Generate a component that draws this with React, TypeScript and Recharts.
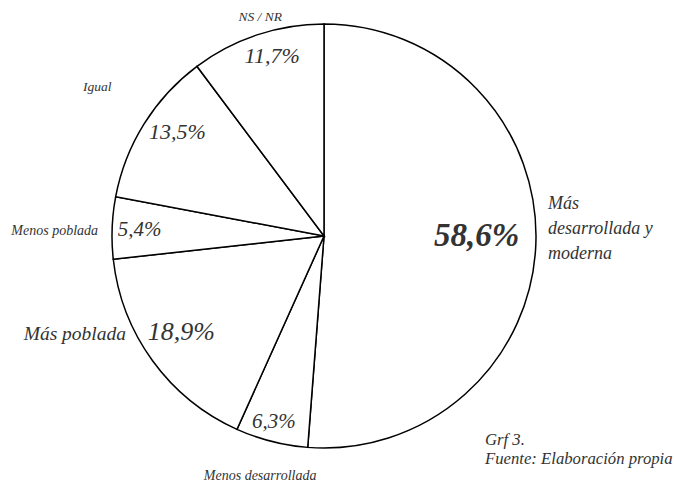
import { PieChart, Pie, Cell } from "recharts";

// Respuestas (los valores no suman 100; la tarta los normaliza)
const categories = [
  "Más desarrollada y moderna",
  "Menos desarrollada",
  "Más poblada",
  "Menos poblada",
  "Igual",
  "NS / NR",
];
const values = [58.6, 6.3, 18.9, 5.4, 13.5, 11.7];
const valueLabels = ["58,6%", "6,3%", "18,9%", "5,4%", "13,5%", "11,7%"];
const nameLines = [["Más", "desarrollada y", "moderna"], ["Menos desarrollada"], ["Más poblada"], ["Menos poblada"], ["Igual"], ["NS / NR"]];

const data = categories.map((name, i) => ({ name, value: values[i] }));

// label placement: radius factor + angle shift (deg, clockwise) from slice middle
const pctLayout = [
  { r: 0.72, da: -2.6, size: 33, bold: true },
  { r: 0.905, da: 0.8, size: 21 },
  { r: 0.81, da: 2.2, size: 26 },
  { r: 0.87, da: 0, size: 21 },
  { r: 0.85, da: 3.6, size: 22 },
  { r: 0.887, da: 2.4, size: 22 },
];
const nameLayout = [
  { r: 1.057, da: -4.2, size: 18, anchor: "start" },
  { r: 1.17, da: 0.6, size: 14, anchor: "middle" },
  { r: 1.042, da: 9.7, size: 19.5, anchor: "end" },
  { r: 1.066, da: -0.7, size: 14, anchor: "end" },
  { r: 1.28, da: 1.4, size: 13.5, anchor: "middle" },
  { r: 1.079, da: 2.2, size: 13.5, anchor: "middle" },
];

const FONT = '"Liberation Serif", "Times New Roman", Times, "DejaVu Serif", serif';
const TEXT = "#333";
const txt = { fontFamily: FONT, fontStyle: "italic" as const };

function polar(cx: number, cy: number, r: number, compass: number) {
  const a = (compass * Math.PI) / 180;
  return { x: cx + r * Math.sin(a), y: cy - r * Math.cos(a) };
}

function renderLabel(props: any) {
  const { cx, cy, midAngle, outerRadius, index } = props;
  const mid = 90 - midAngle;
  const p = pctLayout[index];
  const n = nameLayout[index];
  const pp = polar(cx, cy, outerRadius * p.r, mid + p.da);
  const np = polar(cx, cy, outerRadius * n.r, mid + n.da);
  const lines = nameLines[index];
  const lh = n.size * 1.38;
  return (
    <g>
      <text
        x={pp.x}
        y={pp.y}
        textAnchor="middle"
        dominantBaseline="central"
        style={{ ...txt, fontWeight: p.bold ? 700 : 400, fontSize: p.size }}
        fill={TEXT}
      >
        {valueLabels[index]}
      </text>
      {lines.map((ln, k) => (
        <text
          key={k}
          x={np.x}
          y={np.y + (k - (lines.length - 1) / 2) * lh}
          textAnchor={n.anchor}
          dominantBaseline="central"
          style={{ ...txt, fontSize: n.size }}
          fill={TEXT}
        >
          {ln}
        </text>
      ))}
    </g>
  );
}

export default function App() {
  return (
    <div style={{ position: "absolute", left: 0, top: 0, width: 674, height: 485, background: "#fff" }}>
      <PieChart width={674} height={485} margin={{ top: 0, right: 0, bottom: 0, left: 0 }}>
        <Pie
          data={data}
          dataKey="value"
          nameKey="name"
          cx={324}
          cy={236}
          outerRadius={212}
          startAngle={90}
          endAngle={-270}
          stroke="#000"
          strokeWidth={1.5}
          label={renderLabel}
          labelLine={false}
          isAnimationActive={false}
        >
          {data.map((d) => (
            <Cell key={d.name} fill="#fff" />
          ))}
        </Pie>
        <text x={485} y={445} style={{ ...txt, fontSize: 16.7 }} fill={TEXT}>
          Grf 3.
        </text>
        <text x={485} y={464} style={{ ...txt, fontSize: 16.7 }} fill={TEXT}>
          Fuente: Elaboración propia
        </text>
      </PieChart>
    </div>
  );
}
